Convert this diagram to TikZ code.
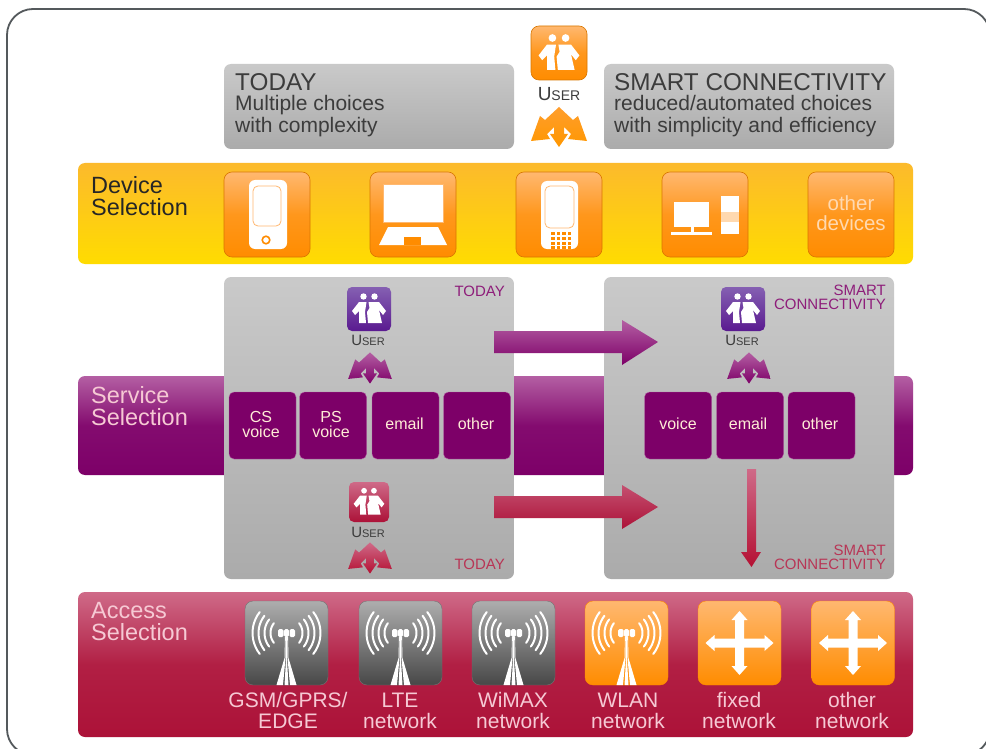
\documentclass[tikz,border=0pt]{standalone}
\usepackage{fontspec}
\setmainfont{Liberation Sans}
\newcommand{\userword}[1]{{\fontsize{#1}{#1}\selectfont U}{\fontsize{\numexpr #1*3/4\relax}{#1}\selectfont SER}}
\definecolor{framegray}{HTML}{54595C}
\definecolor{inkgray}{HTML}{3C3C3C}
\definecolor{plum}{HTML}{7D0068}
\definecolor{plumlight}{HTML}{B45FA3}
\definecolor{indigo}{HTML}{5A1A90}
\definecolor{indigolight}{HTML}{8560B2}
\definecolor{berry}{HTML}{AC1238}
\definecolor{berrylight}{HTML}{CF6A88}
\definecolor{tang}{HTML}{FF8C00}
\definecolor{tanglight}{HTML}{FFB870}
\definecolor{paleorange}{HTML}{FFD9B0}
\definecolor{palepink}{HTML}{F6C9D4}
\definecolor{sunlight}{HTML}{FCBA2C}
\definecolor{sun}{HTML}{FFDC00}
\begin{document}
\begin{tikzpicture}[
      x=1pt, y=-1pt,
      band/.style={rectangle, minimum width=835pt, inner sep=0pt, rounded corners=7pt},
      panel/.style={rectangle, inner sep=0pt, rounded corners=7pt, top color=black!21, bottom color=black!33, minimum width=290pt},
      devbox/.style={rectangle, inner sep=0pt, rounded corners=8pt, minimum width=86pt, minimum height=85pt, draw=tang!85!black, line width=0.6pt, top color=tanglight, bottom color=tang, middle color=tang!75!tanglight},
      srvbox/.style={rectangle, inner sep=0pt, rounded corners=5pt, minimum width=67pt, minimum height=67pt, fill=plum, draw=plumlight, line width=0.4pt},
      srvtext/.style={inner sep=0pt, text=paleorange!50!white, font=\fontsize{16}{15}\selectfont, align=center},
      accbox/.style={rectangle, inner sep=0pt, rounded corners=8pt, minimum width=83pt, minimum height=84pt},
      usrbox/.style={rectangle, inner sep=0pt, rounded corners=5pt, minimum width=44pt, minimum height=44pt},
      grayicon/.style={top color=black!32, bottom color=black!72, draw=black!55, line width=0.4pt},
      orangeicon/.style={top color=tanglight, bottom color=tang, draw=tang, line width=0.4pt},
      head/.style={anchor=west, inner sep=0pt, text=inkgray, font=\fontsize{24.3}{24}\selectfont},
      sub/.style={anchor=west, inner sep=0pt, align=left, text=inkgray, font=\fontsize{21}{22}\selectfont},
      rowtitle/.style={anchor=west, inner sep=0pt, align=left, font=\fontsize{23.5}{22}\selectfont},
      tag/.style={anchor=east, inner sep=0pt, align=right, font=\fontsize{15}{14}\selectfont},
      netlabel/.style={inner sep=0pt, align=center, text=palepink, font=\fontsize{21}{21}\selectfont},
      userlabel/.style={inner sep=0pt, text=inkgray},
      pics/folks/.style={code={
        \fill[white] (-5.5,-12.5) circle (3.2);
        \fill[white] (5.5,-12.5) circle (3.2);
        \fill[white] (-2.5,-7) -- (-10,-7) -- (-17,2) -- (-14,6) -- (-10,2) -- (-10,14) -- (-3,14) -- (-4,3) -- cycle;
        \fill[white] (-0.5,-7) -- (10,-7) -- (17,2) -- (14,6) -- (10,1) -- (13,14) -- (-1,14) -- (-2,3) -- (0.5,-1) -- cycle;
      }},
      pics/fourway/.style={code={
        \path[pic actions] (0,-20) -- (14,-7) -- (19,-11) -- (28,14) -- (9,12) -- (12,7) -- (5,0) -- (5,7)
          -- (9,7) -- (0,20) -- (-9,7) -- (-5,7) -- (-5,0) -- (-12,7) -- (-9,12) -- (-28,14) -- (-19,-11) -- (-14,-7) -- cycle;
      }},
      pics/mast/.style={code={
        \foreach \r in {16,22,28,34} {
          \draw[white, line width=2pt, line cap=round] plot[domain=142:218, samples=12] ({\r*cos(\x)}, {-10+\r*sin(\x)});
          \draw[white, line width=2pt, line cap=round] plot[domain=-38:38, samples=12] ({\r*cos(\x)}, {-10+\r*sin(\x)});
        }
        \fill[white, rounded corners=1.5pt] (-8.5,-14) rectangle (-3,-6);
        \fill[white, rounded corners=1.5pt] (-2.3,-14) rectangle (2.3,-6);
        \fill[white, rounded corners=1.5pt] (3,-14) rectangle (8.5,-6);
        \fill[white] (-1.5,-6) -- (-0.7,-6) -- (-1,15) -- (-3.5,42) -- (-10,42) -- (-2,15) -- cycle;
        \fill[white] (-0.4,-6) -- (0.4,-6) -- (0.4,15) -- (2,42) -- (-2,42) -- (-0.4,15) -- cycle;
        \fill[white] (1.5,-6) -- (0.7,-6) -- (1,15) -- (3.5,42) -- (10,42) -- (2,15) -- cycle;
      }},
      pics/cross/.style={code={
        \fill[white] (-4.5,-4.5) -- (-4.5,-23) -- (-8,-23) -- (0,-32) -- (8,-23) -- (4.5,-23) -- (4.5,-4.5)
          -- (25,-4.5) -- (25,-8) -- (34,0) -- (25,8) -- (25,4.5) -- (4.5,4.5)
          -- (4.5,23) -- (8,23) -- (0,32) -- (-8,23) -- (-4.5,23) -- (-4.5,4.5)
          -- (-25,4.5) -- (-25,8) -- (-34,0) -- (-25,-8) -- (-25,-4.5) -- cycle;
      }},
    ]
      \useasboundingbox (0, 0) rectangle (986, 749);
      \clip (0, 0) rectangle (986, 749);
      \fill[white] (0, 0) rectangle (986, 749);
      \draw[framegray, line width=1.8pt, rounded corners=26pt] (7, 9) rectangle (990, 755);

      \node[panel, minimum height=85pt] (1) at (369, 106.5) {};
      \node[panel, minimum height=85pt] (2) at (749, 106.5) {};
      \node[head] (3) at (235, 82) {TODAY};
      \node[sub] (4) at (235, 116) {Multiple choices\\with complexity};
      \node[head] (5) at (614, 82) {SMART CONNECTIVITY};
      \node[sub] (6) at (614, 116) {reduced/automated choices\\with simplicity and efficiency};
      \node[devbox, minimum width=56pt, minimum height=54pt] (7) at (559, 53) {};
      \pic[scale=1.2] at (559, 53) {folks};
      \node[userlabel] (8) at (559, 94) {\userword{19}};
      \pic[top color=tang!60!tanglight, bottom color=tang!90!yellow] at (559, 127) {fourway};

      \node[band, minimum height=101pt, top color=sunlight, bottom color=sun] (9) at (495.5, 213.5) {};
      \node[rowtitle, text=black!85] (10) at (91, 196) {Device\\Selection};
      \node[devbox] (11) at (267, 214.5) {};
      \node[devbox] (12) at (413, 214.5) {};
      \node[devbox] (13) at (559, 214.5) {};
      \node[devbox] (14) at (705, 214.5) {};
      \node[devbox] (15) at (851, 214.5) {};
      \node[inner sep=0pt, align=center, text=paleorange, font=\fontsize{20.5}{20}\selectfont] (51) at (851, 213) {other\\devices};

      \fill[white, rounded corners=6pt] (249, 180) rectangle (287, 249);
      \draw[tanglight, line width=0.8pt, fill=white, rounded corners=5pt] (253, 186) rectangle (281, 226);
      \draw[tang, line width=1.6pt] (266, 240) circle (3.8);
      \draw[tanglight, line width=1pt, fill=white] (383, 185) rectangle (443, 222);
      \fill[white] (388, 227) -- (438, 227) -- (447, 245) -- (379, 245) -- cycle;
      \fill[tang] (404, 237) rectangle (421, 245);
      \fill[white, rounded corners=6pt] (541, 181) rectangle (578, 249);
      \draw[tanglight, line width=0.8pt, fill=white, rounded corners=5pt] (545, 186) rectangle (574, 228);
      \foreach \i in {0, 1, 2, 3} {
        \foreach \j in {0, 1, 2, 3} {
          \fill[tang] (551 + \i * 5.5, 232 + \j * 4.8) rectangle +(3.6, 3);
        }
      }
      \fill[white] (674, 202) rectangle (709, 227);
      \fill[white] (690.5, 227) rectangle (693.5, 232);
      \fill[white] (671, 232) rectangle (712, 235);
      \fill[white] (721, 196) rectangle (739, 212);
      \fill[paleorange] (721, 212) rectangle (739, 222);
      \fill[white] (721, 222) rectangle (739, 234);

      \node[band, minimum height=99pt, top color=plumlight, bottom color=plum, middle color=plum!88!plumlight] (16) at (495.5, 425.5) {};
      \node[rowtitle, text=palepink] (17) at (91, 406) {Service\\Selection};
      \node[panel, minimum height=302pt] (18) at (369, 428) {};
      \node[panel, minimum height=302pt] (19) at (749, 428) {};
      \node[srvbox] (20) at (262.5, 425.5) {};
      \node[srvbox] (21) at (333, 425.5) {};
      \node[srvbox] (22) at (405.5, 425.5) {};
      \node[srvbox] (23) at (477, 425.5) {};
      \node[srvbox] (24) at (678, 425.5) {};
      \node[srvbox] (25) at (750, 425.5) {};
      \node[srvbox] (26) at (821.5, 425.5) {};
      \node[srvtext] (52) at (261, 424) {CS\\voice};
      \node[srvtext] (53) at (331, 424) {PS\\voice};
      \node[srvtext] (54) at (404.5, 423.5) {email};
      \node[srvtext] (55) at (476, 423.5) {other};
      \node[srvtext] (56) at (678, 423.5) {voice};
      \node[srvtext] (57) at (748, 423.5) {email};
      \node[srvtext] (58) at (820, 423.5) {other};

      \node[usrbox, top color=indigolight, bottom color=indigo] (27) at (369, 309) {};
      \pic at (369, 309) {folks};
      \node[userlabel] (28) at (368, 340) {\userword{15}};
      \pic[scale=0.78, top color=plumlight, bottom color=plum] at (370, 368) {fourway};
      \node[tag, text=plum!70!plumlight] (29) at (505, 291) {TODAY};
      \node[usrbox, minimum width=40pt, minimum height=40pt, top color=berrylight, bottom color=berry] (30) at (369, 502) {};
      \pic[scale=0.9] at (369, 502) {folks};
      \node[userlabel] (31) at (368, 532) {\userword{15}};
      \pic[scale=0.78, top color=berrylight, bottom color=berry!90!red] at (370, 558) {fourway};
      \node[tag, text=berry!85!white] (32) at (505, 564) {TODAY};

      \node[usrbox, top color=indigolight, bottom color=indigo] (33) at (743, 309) {};
      \pic at (743, 309) {folks};
      \node[userlabel] (34) at (742, 340) {\userword{15}};
      \pic[scale=0.78, top color=plumlight, bottom color=plum] at (749, 368) {fourway};
      \node[tag, text=plum!70!plumlight] (35) at (886, 297) {SMART\\CONNECTIVITY};
      \node[tag, text=berry!85!white] (36) at (886, 557) {SMART\\CONNECTIVITY};

      \shade[top color=plumlight, bottom color=plum] (494, 331) -- (622, 331) -- (622, 320) -- (658, 342) -- (622, 365) -- (622, 353) -- (494, 353) -- cycle;
      \shade[top color=berrylight!70!berry, bottom color=berry] (494, 496) -- (622, 496) -- (622, 485) -- (658, 507) -- (622, 529) -- (622, 518) -- (494, 518) -- cycle;
      \shade[top color=berrylight, bottom color=berry!90!red] (747, 469) -- (756, 469) -- (756, 552) -- (761, 552) -- (751.5, 567) -- (741, 552) -- (747, 552) -- cycle;

      \node[band, minimum height=145pt, top color=berrylight, bottom color=berry, middle color=berry!85!berrylight] (37) at (495.5, 664.5) {};
      \node[rowtitle, text=palepink] (38) at (91, 622) {Access\\Selection};
      \node[accbox, grayicon] (39) at (286.5, 643) {};
      \node[accbox, grayicon] (40) at (400.5, 643) {};
      \node[accbox, grayicon] (41) at (513.5, 643) {};
      \node[accbox, orangeicon] (42) at (626.5, 643) {};
      \node[accbox, orangeicon] (43) at (739.5, 643) {};
      \node[accbox, orangeicon] (44) at (853, 643) {};
      \pic at (286.5, 643) {mast};
      \pic at (400.5, 643) {mast};
      \pic at (513.5, 643) {mast};
      \pic at (626.5, 643) {mast};
      \pic at (739.5, 643) {cross};
      \pic at (853, 643) {cross};
      \node[netlabel] (45) at (288, 710.5) {GSM/GPRS/\\EDGE};
      \node[netlabel] (46) at (400, 710.5) {LTE\\network};
      \node[netlabel] (47) at (513, 710.5) {WiMAX\\network};
      \node[netlabel] (48) at (628, 710.5) {WLAN\\network};
      \node[netlabel] (49) at (739, 710.5) {fixed\\network};
      \node[netlabel] (50) at (852, 710.5) {other\\network};
    \end{tikzpicture}
\end{document}
